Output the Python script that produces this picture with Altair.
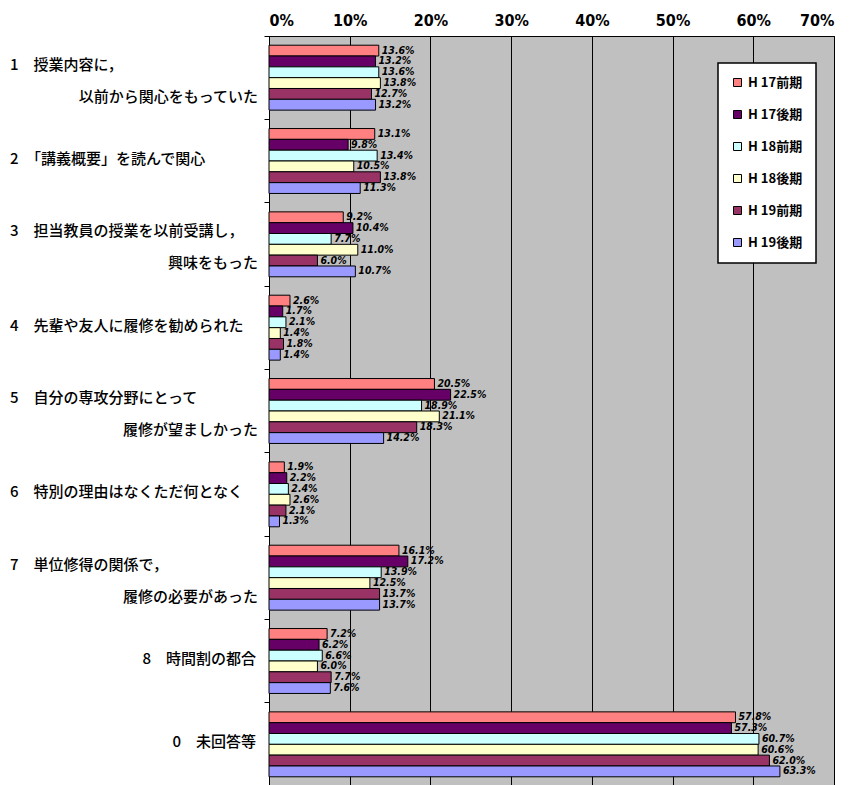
import altair as alt
import pandas as pd

# Survey categories (question number + text, split over up to two lines)
category_ids = ["1", "2", "3", "4", "5", "6", "7", "8", "0"]
label_line1 = [
    "1　授業内容に，",
    "2　「講義概要」を読んで関心",
    "3　担当教員の授業を以前受講し，",
    "4　先輩や友人に履修を勧められた",
    "5　自分の専攻分野にとって",
    "6　特別の理由はなくただ何となく",
    "7　単位修得の関係で，",
    "8　時間割の都合",
    "0　未回答等",
]
label_line2 = [
    "以前から関心をもっていた",
    "",
    "興味をもった",
    "",
    "履修が望ましかった",
    "",
    "履修の必要があった",
    "",
    "",
]
# single-line labels that sit flush right against the axis
right_aligned_single = ["8", "0"]

# Semesters
series = ["H 17前期", "H 17後期", "H 18前期", "H 18後期", "H 19前期", "H 19後期"]
colors = ["#FF8080", "#660066", "#CCFFFF", "#FFFFCC", "#993366", "#9999FF"]

# Percentages per semester, in category order
h17_first = [13.6, 13.1, 9.2, 2.6, 20.5, 1.9, 16.1, 7.2, 57.8]
h17_second = [13.2, 9.8, 10.4, 1.7, 22.5, 2.2, 17.2, 6.2, 57.3]
h18_first = [13.6, 13.4, 7.7, 2.1, 18.9, 2.4, 13.9, 6.6, 60.7]
h18_second = [13.8, 10.5, 11.0, 1.4, 21.1, 2.6, 12.5, 6.0, 60.6]
h19_first = [12.7, 13.8, 6.0, 1.8, 18.3, 2.1, 13.7, 7.7, 62.0]
h19_second = [13.2, 11.3, 10.7, 1.4, 14.2, 1.3, 13.7, 7.6, 63.3]

tick_values = [0, 10, 20, 30, 40, 50, 60, 70]

values_by_series = [h17_first, h17_second, h18_first, h18_second, h19_first, h19_second]
rows = []
for s, vals in zip(series, values_by_series):
    for c, v in zip(category_ids, vals):
        rows.append({"cat": c, "series": s, "value": v, "label": f"{v:.1f}%"})
df = pd.DataFrame(rows)

lab = pd.DataFrame({"cat": category_ids, "l1": label_line1, "l2": label_line2})
two_line = lab[lab["l2"] != ""]
one_line = lab[lab["l2"] == ""]
one_left = one_line[~one_line["cat"].isin(right_aligned_single)]
one_right = one_line[one_line["cat"].isin(right_aligned_single)]

W, H = 565, 750
LEFT = 269

y_enc = alt.Y(
    "cat:N",
    sort=category_ids,
    scale=alt.Scale(paddingInner=0, paddingOuter=0),
    axis=alt.Axis(
        labels=False, title=None, ticks=True, tickSize=5, tickColor="black",
        bandPosition=0, domainColor="black", grid=False,
    ),
)
yoff_enc = alt.YOffset(
    "series:N", sort=series,
    scale=alt.Scale(paddingInner=0, paddingOuter=0.85),
)
x_enc = alt.X(
    "value:Q",
    scale=alt.Scale(domain=[0, 70], nice=False),
    axis=alt.Axis(
        orient="top", values=tick_values, labelExpr="datum.value + '%'",
        title=None, ticks=False, labelPadding=8, grid=True, gridColor="black",
        gridWidth=1, domainColor="black",
        labelFont="Liberation Sans Narrow, DejaVu Sans Condensed",
        labelFontSize=16, labelFontWeight="bold", labelColor="black",
    ),
)

bars = alt.Chart(df).mark_bar(stroke="black", strokeWidth=1).encode(
    x=x_enc,
    y=y_enc,
    yOffset=yoff_enc,
    color=alt.Color(
        "series:N", sort=series,
        scale=alt.Scale(domain=series, range=colors),
        legend=alt.Legend(
            orient="none", legendX=449, legendY=27, title=None,
            fillColor="white", strokeColor="black",
            padding=13, rowPadding=18, symbolType="square", symbolSize=64,
            symbolStrokeColor="black", symbolStrokeWidth=1, symbolOpacity=1,
            labelFont="Noto Sans CJK JP", labelFontSize=13,
            labelFontWeight="bold", labelColor="black", labelOffset=4,
        ),
    ),
)

values_text = alt.Chart(df).mark_text(
    align="left", baseline="middle", dx=3,
    font="DejaVu Sans Condensed", fontSize=10.5, fontStyle="italic",
    fontWeight="bold", color="black",
).encode(
    x="value:Q",
    y=alt.Y("cat:N", sort=category_ids),
    yOffset=alt.YOffset("series:N", sort=series),
    text="label:N",
)

cat_font = dict(font="Noto Sans CJK JP", fontSize=15, fontWeight=500,
                color="black", baseline="middle")

first_lines = alt.Chart(two_line).mark_text(align="left", dy=-13, **cat_font).encode(
    x=alt.value(10 - LEFT), y=alt.Y("cat:N", sort=category_ids), text="l1:N"
)
second_lines = alt.Chart(two_line).mark_text(align="right", dy=19, **cat_font).encode(
    x=alt.value(258 - LEFT), y=alt.Y("cat:N", sort=category_ids), text="l2:N"
)
single_left = alt.Chart(one_left).mark_text(align="left", dy=-2, **cat_font).encode(
    x=alt.value(10 - LEFT), y=alt.Y("cat:N", sort=category_ids), text="l1:N"
)
single_right = alt.Chart(one_right).mark_text(align="right", dy=-2, **cat_font).encode(
    x=alt.value(256 - LEFT), y=alt.Y("cat:N", sort=category_ids), text="l1:N"
)

chart = alt.layer(
    bars, values_text, first_lines, second_lines, single_left, single_right
).properties(
    width=W, height=H,
    autosize=alt.AutoSizeParams(type="none"),
    padding={"left": LEFT, "top": 36, "right": 21, "bottom": 0},
    background="white",
).configure_view(
    fill="#C0C0C0", stroke="black", strokeWidth=1,
).configure_legend(
    strokeWidth=1.5,
)

chart.save("out.html", embed_options={"renderer": "svg", "actions": False})
